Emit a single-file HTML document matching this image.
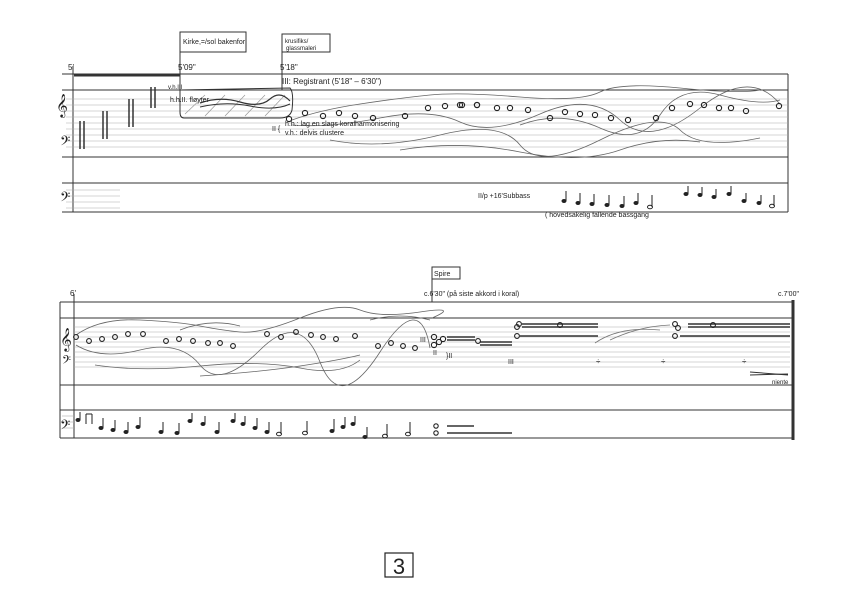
<!DOCTYPE html>
<html><head><meta charset="utf-8"><style>
html,body{margin:0;padding:0;background:#fff;}
svg{display:block;}
text{font-family:"Liberation Sans",sans-serif;fill:#222;}
</style></head><body>
<svg width="864" height="608" viewBox="0 0 864 608" xmlns="http://www.w3.org/2000/svg">
<g stroke="#333" fill="none" stroke-width="1">
<!-- SYSTEM 1 frame -->
<line x1="62" y1="74" x2="788" y2="74"/>
<line x1="62" y1="90" x2="788" y2="90"/>
<line x1="62" y1="157" x2="788" y2="157"/>
<line x1="62" y1="183" x2="788" y2="183"/>
<line x1="62" y1="212" x2="788" y2="212"/>
<line x1="73" y1="66" x2="73" y2="212"/>
<line x1="788" y1="74" x2="788" y2="212"/>
<g stroke="#aaa" stroke-width="0.6">
<line x1="66" y1="99" x2="788" y2="99"/><line x1="66" y1="105" x2="788" y2="105"/><line x1="66" y1="111" x2="788" y2="111"/><line x1="66" y1="117" x2="788" y2="117"/><line x1="66" y1="123" x2="788" y2="123"/>
<line x1="66" y1="129" x2="788" y2="129"/><line x1="66" y1="135" x2="788" y2="135"/><line x1="66" y1="141" x2="788" y2="141"/><line x1="66" y1="147" x2="788" y2="147"/>
<line x1="66" y1="190" x2="120" y2="190"/><line x1="66" y1="196" x2="120" y2="196"/><line x1="66" y1="202" x2="120" y2="202"/><line x1="66" y1="208" x2="120" y2="208"/>
</g>
<line x1="74" y1="75" x2="180" y2="75" stroke-width="3"/>
<!-- clusters -->
<g stroke-width="1.5">
<line x1="80" y1="121" x2="80" y2="149"/><line x1="84" y1="121" x2="84" y2="149"/>
<line x1="103" y1="111" x2="103" y2="139"/><line x1="107" y1="111" x2="107" y2="139"/>
<line x1="129" y1="99" x2="129" y2="127"/><line x1="133" y1="99" x2="133" y2="127"/>
<line x1="151" y1="87" x2="151" y2="108"/><line x1="155" y1="87" x2="155" y2="108"/>
</g>
<!-- markers/boxes -->
<line x1="180" y1="32" x2="180" y2="90"/>
<rect x="180" y="32" width="66" height="20"/>
<line x1="282" y1="34" x2="282" y2="90"/>
<rect x="282" y="34" width="48" height="18"/>
<!-- shaded box -->
<path d="M180 90 L290 88 Q294 92 292 110 Q290 118 280 118 L184 118 Q180 118 180 112 Z"/>
<g stroke="#999" stroke-width="0.7">
<line x1="185" y1="114" x2="205" y2="95"/><line x1="205" y1="116" x2="225" y2="95"/><line x1="225" y1="116" x2="245" y2="95"/><line x1="245" y1="116" x2="265" y2="95"/><line x1="265" y1="116" x2="285" y2="95"/>
</g>
<path d="M200 103 Q220 96 240 102 T270 99 T290 101" stroke-width="1.2"/>
<path d="M200 107 Q225 101 250 106 T290 104" stroke-width="1"/>
<!-- wavy lines sys1 -->
<g stroke="#666" stroke-width="0.8">
<path d="M292 120 Q320 110 360 104 T430 95 T520 97 T600 92 T680 88 T760 90"/>
<path d="M292 125 Q330 128 380 118 T460 122 T540 114 T620 120 T700 108 T780 104"/>
<path d="M330 140 Q380 150 440 135 T520 145 T600 140 T680 130 T760 138"/>
<path d="M400 150 Q460 140 520 152 T620 150 T700 142"/>
<path d="M520 125 Q560 110 600 128 T660 115 T720 95 T780 100"/>
</g>
</g>
<g fill="none" stroke="#222" stroke-width="1.1">
<circle cx="289" cy="119" r="2.6"/><circle cx="305" cy="113" r="2.6"/><circle cx="323" cy="116" r="2.6"/><circle cx="339" cy="113" r="2.6"/><circle cx="355" cy="116" r="2.6"/><circle cx="373" cy="118" r="2.6"/><circle cx="405" cy="116" r="2.6"/><circle cx="428" cy="108" r="2.6"/><circle cx="445" cy="106" r="2.6"/><circle cx="462" cy="105" r="2.6"/><circle cx="477" cy="105" r="2.6"/><circle cx="460" cy="105" r="2.6"/><circle cx="477" cy="105" r="2.6"/><circle cx="497" cy="108" r="2.6"/><circle cx="510" cy="108" r="2.6"/><circle cx="528" cy="110" r="2.6"/><circle cx="550" cy="118" r="2.6"/><circle cx="565" cy="112" r="2.6"/><circle cx="580" cy="114" r="2.6"/><circle cx="595" cy="115" r="2.6"/><circle cx="611" cy="118" r="2.6"/><circle cx="628" cy="120" r="2.6"/><circle cx="656" cy="118" r="2.6"/><circle cx="672" cy="108" r="2.6"/><circle cx="690" cy="104" r="2.6"/><circle cx="704" cy="105" r="2.6"/><circle cx="719" cy="108" r="2.6"/><circle cx="731" cy="108" r="2.6"/><circle cx="746" cy="111" r="2.6"/><circle cx="779" cy="106" r="2.6"/>
</g>
<!-- sys1 bass notes -->
<g fill="#222" stroke="#222" stroke-width="1">
<g><ellipse cx="564" cy="201" rx="2" ry="1.5"/><line x1="566" y1="201" x2="566" y2="191"/></g>
<g><ellipse cx="578" cy="203" rx="2" ry="1.5"/><line x1="580" y1="203" x2="580" y2="193"/></g>
<g><ellipse cx="592" cy="204" rx="2" ry="1.5"/><line x1="594" y1="204" x2="594" y2="194"/></g>
<g><ellipse cx="607" cy="205" rx="2" ry="1.5"/><line x1="609" y1="205" x2="609" y2="195"/></g>
<g><ellipse cx="622" cy="206" rx="2" ry="1.5"/><line x1="624" y1="206" x2="624" y2="196"/></g>
<g><ellipse cx="636" cy="203" rx="2" ry="1.5"/><line x1="638" y1="203" x2="638" y2="193"/></g>
<g fill="none"><ellipse cx="650" cy="207" rx="2.5" ry="1.8"/><line x1="652" y1="207" x2="652" y2="195"/></g>
<g><ellipse cx="686" cy="194" rx="2" ry="1.5"/><line x1="688" y1="194" x2="688" y2="186"/></g>
<g><ellipse cx="700" cy="195" rx="2" ry="1.5"/><line x1="702" y1="195" x2="702" y2="187"/></g>
<g><ellipse cx="714" cy="197" rx="2" ry="1.5"/><line x1="716" y1="197" x2="716" y2="189"/></g>
<g><ellipse cx="729" cy="194" rx="2" ry="1.5"/><line x1="731" y1="194" x2="731" y2="186"/></g>
<g><ellipse cx="744" cy="201" rx="2" ry="1.5"/><line x1="746" y1="201" x2="746" y2="193"/></g>
<g><ellipse cx="759" cy="203" rx="2" ry="1.5"/><line x1="761" y1="203" x2="761" y2="195"/></g>
<g fill="none"><ellipse cx="772" cy="206" rx="2.5" ry="1.8"/><line x1="774" y1="206" x2="774" y2="195"/></g>
</g>
<g font-size="8">
<text x="68" y="70">5'</text>
<text x="178" y="70">5'09"</text>
<text x="280" y="70">5'18"</text>
<text x="183" y="44" font-size="7">Kirke,=/sol bakenfor</text>
<text x="285" y="43" font-size="6">krusifiks/</text>
<text x="286" y="50" font-size="6">glassmaleri</text>
<text x="282" y="84">III: Registrant (5'18" – 6'30")</text>
<text x="168" y="89" font-size="6">v.h.III</text>
<text x="170" y="102" font-size="7">h.h.II. fløyter</text>
<text x="272" y="131" font-size="7">II {</text>
<text x="285" y="126" font-size="7">h.h.: lag en slags koralharmonisering</text>
<text x="285" y="135" font-size="7">v.h.: delvis clustere</text>
<text x="478" y="198" font-size="7">II/p +16'Subbass</text>
<text x="545" y="217" font-size="7">( hovedsakelig fallende bassgang</text>
<text x="56" y="112" font-size="20">𝄞</text>
<text x="60" y="148" font-size="16">𝄢</text>
<text x="60" y="204" font-size="16">𝄢</text>
</g>
<!-- SYSTEM 2 -->
<g stroke="#333" fill="none" stroke-width="1">
<line x1="60" y1="302" x2="793" y2="302"/>
<line x1="60" y1="318" x2="793" y2="318"/>
<line x1="60" y1="385" x2="793" y2="385"/>
<line x1="60" y1="410" x2="793" y2="410"/>
<line x1="60" y1="438" x2="793" y2="438"/>
<line x1="60" y1="302" x2="60" y2="438"/>
<line x1="74" y1="294" x2="74" y2="438"/>
<line x1="793" y1="300" x2="793" y2="440" stroke-width="3"/>
<g stroke="#aaa" stroke-width="0.6">
<line x1="74" y1="327" x2="790" y2="327"/><line x1="74" y1="332" x2="790" y2="332"/><line x1="74" y1="337" x2="790" y2="337"/><line x1="74" y1="342" x2="790" y2="342"/><line x1="74" y1="347" x2="790" y2="347"/>
<line x1="74" y1="352" x2="790" y2="352"/><line x1="74" y1="357" x2="790" y2="357"/><line x1="74" y1="362" x2="790" y2="362"/><line x1="74" y1="367" x2="790" y2="367"/>
<line x1="62" y1="416" x2="74" y2="416"/><line x1="62" y1="422" x2="74" y2="422"/><line x1="62" y1="428" x2="74" y2="428"/>
</g>
<line x1="432" y1="272" x2="432" y2="302"/>
<rect x="432" y="267" width="28" height="12"/>
<g stroke="#666" stroke-width="0.8">
<path d="M76 335 Q100 318 140 320 T200 326 T240 332 T300 318 T360 310 T420 312 T432 318"/>
<path d="M76 345 Q100 360 140 350 T200 365 T260 350 T320 362 T380 352 T430 348"/>
<path d="M95 365 Q140 372 200 366 T300 368 T360 360"/>
<path d="M180 330 Q210 318 240 326"/>
<path d="M200 376 Q260 372 300 366 T360 355"/>
<path d="M370 320 Q400 312 430 320"/>
</g>
<!-- chord lines -->
<g stroke-width="1.4">
<line x1="447" y1="337" x2="475" y2="337"/><line x1="447" y1="340" x2="475" y2="340"/><line x1="480" y1="342" x2="512" y2="342"/><line x1="480" y1="345" x2="512" y2="345"/>
<line x1="522" y1="324" x2="598" y2="324"/><line x1="522" y1="327" x2="598" y2="327"/><line x1="520" y1="336" x2="598" y2="336"/>
<line x1="688" y1="324" x2="790" y2="324"/><line x1="688" y1="327" x2="790" y2="327"/><line x1="680" y1="336" x2="790" y2="336"/>
<line x1="447" y1="426" x2="474" y2="426"/><line x1="447" y1="433" x2="512" y2="433"/>
<line x1="750" y1="372" x2="788" y2="375" stroke-width="1"/><line x1="750" y1="375" x2="788" y2="374" stroke-width="1"/>
</g>
<g stroke="#777" stroke-width="0.8"><path d="M595 343 Q620 326 660 330"/><path d="M610 340 Q640 326 670 325"/></g>
</g>
<g fill="none" stroke="#222" stroke-width="1.1">
<circle cx="76" cy="337" r="2.4"/><circle cx="89" cy="341" r="2.4"/><circle cx="102" cy="339" r="2.4"/><circle cx="115" cy="337" r="2.4"/><circle cx="128" cy="334" r="2.4"/><circle cx="143" cy="334" r="2.4"/><circle cx="166" cy="341" r="2.4"/><circle cx="179" cy="339" r="2.4"/><circle cx="193" cy="341" r="2.4"/><circle cx="208" cy="343" r="2.4"/><circle cx="220" cy="343" r="2.4"/><circle cx="233" cy="346" r="2.4"/><circle cx="267" cy="334" r="2.4"/><circle cx="281" cy="337" r="2.4"/><circle cx="296" cy="332" r="2.4"/><circle cx="311" cy="335" r="2.4"/><circle cx="323" cy="337" r="2.4"/><circle cx="336" cy="339" r="2.4"/><circle cx="355" cy="336" r="2.4"/><circle cx="378" cy="346" r="2.4"/><circle cx="391" cy="343" r="2.4"/><circle cx="403" cy="346" r="2.4"/><circle cx="415" cy="348" r="2.4"/>
<circle cx="434" cy="337" r="2.6"/><circle cx="439" cy="342" r="2.6"/><circle cx="434" cy="345" r="2.6"/><circle cx="443" cy="339" r="2.6"/>
<circle cx="478" cy="341" r="2.4"/><circle cx="519" cy="324" r="2.4"/><circle cx="517" cy="327" r="2.4"/><circle cx="517" cy="336" r="2.4"/><circle cx="560" cy="325" r="2.4"/>
<circle cx="675" cy="324" r="2.4"/><circle cx="678" cy="328" r="2.4"/><circle cx="675" cy="336" r="2.4"/><circle cx="713" cy="325" r="2.4"/>
<circle cx="436" cy="426" r="2.2"/><circle cx="436" cy="433" r="2.2"/>
</g>
<g fill="#222" stroke="#222" stroke-width="1">
<g><ellipse cx="78" cy="420" rx="2" ry="1.5"/><line x1="80" y1="420" x2="80" y2="412"/></g>
<g><line x1="86" y1="424" x2="86" y2="414"/><line x1="92" y1="424" x2="92" y2="414"/><line x1="86" y1="414" x2="92" y2="414"/></g>
<g><ellipse cx="101" cy="428" rx="2" ry="1.5"/><line x1="103" y1="428" x2="103" y2="418"/></g>
<g><ellipse cx="113" cy="430" rx="2" ry="1.5"/><line x1="115" y1="430" x2="115" y2="420"/></g>
<g><ellipse cx="126" cy="432" rx="2" ry="1.5"/><line x1="128" y1="432" x2="128" y2="422"/></g>
<g><ellipse cx="138" cy="427" rx="2" ry="1.5"/><line x1="140" y1="427" x2="140" y2="417"/></g>
<g><ellipse cx="161" cy="432" rx="2" ry="1.5"/><line x1="163" y1="432" x2="163" y2="422"/></g>
<g><ellipse cx="177" cy="433" rx="2" ry="1.5"/><line x1="179" y1="433" x2="179" y2="423"/></g>
<g><ellipse cx="190" cy="421" rx="2" ry="1.5"/><line x1="192" y1="421" x2="192" y2="413"/></g>
<g><ellipse cx="203" cy="424" rx="2" ry="1.5"/><line x1="205" y1="424" x2="205" y2="416"/></g>
<g><ellipse cx="217" cy="432" rx="2" ry="1.5"/><line x1="219" y1="432" x2="219" y2="422"/></g>
<g><ellipse cx="233" cy="421" rx="2" ry="1.5"/><line x1="235" y1="421" x2="235" y2="413"/></g>
<g><ellipse cx="243" cy="424" rx="2" ry="1.5"/><line x1="245" y1="424" x2="245" y2="416"/></g>
<g><ellipse cx="255" cy="428" rx="2" ry="1.5"/><line x1="257" y1="428" x2="257" y2="418"/></g>
<g><ellipse cx="267" cy="432" rx="2" ry="1.5"/><line x1="269" y1="432" x2="269" y2="422"/></g>
<g fill="none"><ellipse cx="279" cy="434" rx="2.5" ry="1.8"/><line x1="281" y1="434" x2="281" y2="422"/></g>
<g fill="none"><ellipse cx="305" cy="433" rx="2.5" ry="1.8"/><line x1="307" y1="433" x2="307" y2="421"/></g>
<g><ellipse cx="332" cy="431" rx="2" ry="1.5"/><line x1="334" y1="431" x2="334" y2="419"/></g>
<g><ellipse cx="343" cy="427" rx="2" ry="1.5"/><line x1="345" y1="427" x2="345" y2="417"/></g>
<g><ellipse cx="353" cy="424" rx="2" ry="1.5"/><line x1="355" y1="424" x2="355" y2="416"/></g>
<g><ellipse cx="365" cy="437" rx="2" ry="1.5"/><line x1="367" y1="437" x2="367" y2="427"/></g>
<g fill="none"><ellipse cx="385" cy="436" rx="2.5" ry="1.8"/><line x1="387" y1="436" x2="387" y2="424"/></g>
<g fill="none"><ellipse cx="408" cy="434" rx="2.5" ry="1.8"/><line x1="410" y1="434" x2="410" y2="422"/></g>
</g>
<g font-size="8">
<text x="70" y="296">6'</text>
<text x="424" y="296" font-size="7">c.6'30" (på siste akkord i koral)</text>
<text x="434" y="276" font-size="7">Spire</text>
<text x="778" y="296" font-size="7">c.7'00"</text>
<text x="420" y="342" font-size="7">III</text>
<text x="433" y="355" font-size="7">II</text>
<text x="446" y="358" font-size="7">}II</text>
<text x="508" y="364" font-size="7">III</text>
<text x="596" y="364">÷</text><text x="661" y="364">÷</text><text x="742" y="364">÷</text>
<text x="772" y="384" font-size="6">niente</text>
<text x="60" y="346" font-size="20">𝄞</text>
<text x="62" y="366" font-size="14">𝄢</text>
<text x="60" y="432" font-size="16">𝄢</text>
</g>
<rect x="385" y="553" width="28" height="24" fill="none" stroke="#222" stroke-width="1.2"/>
<text x="399" y="574" font-size="22" text-anchor="middle">3</text>
</svg>
</body></html>
